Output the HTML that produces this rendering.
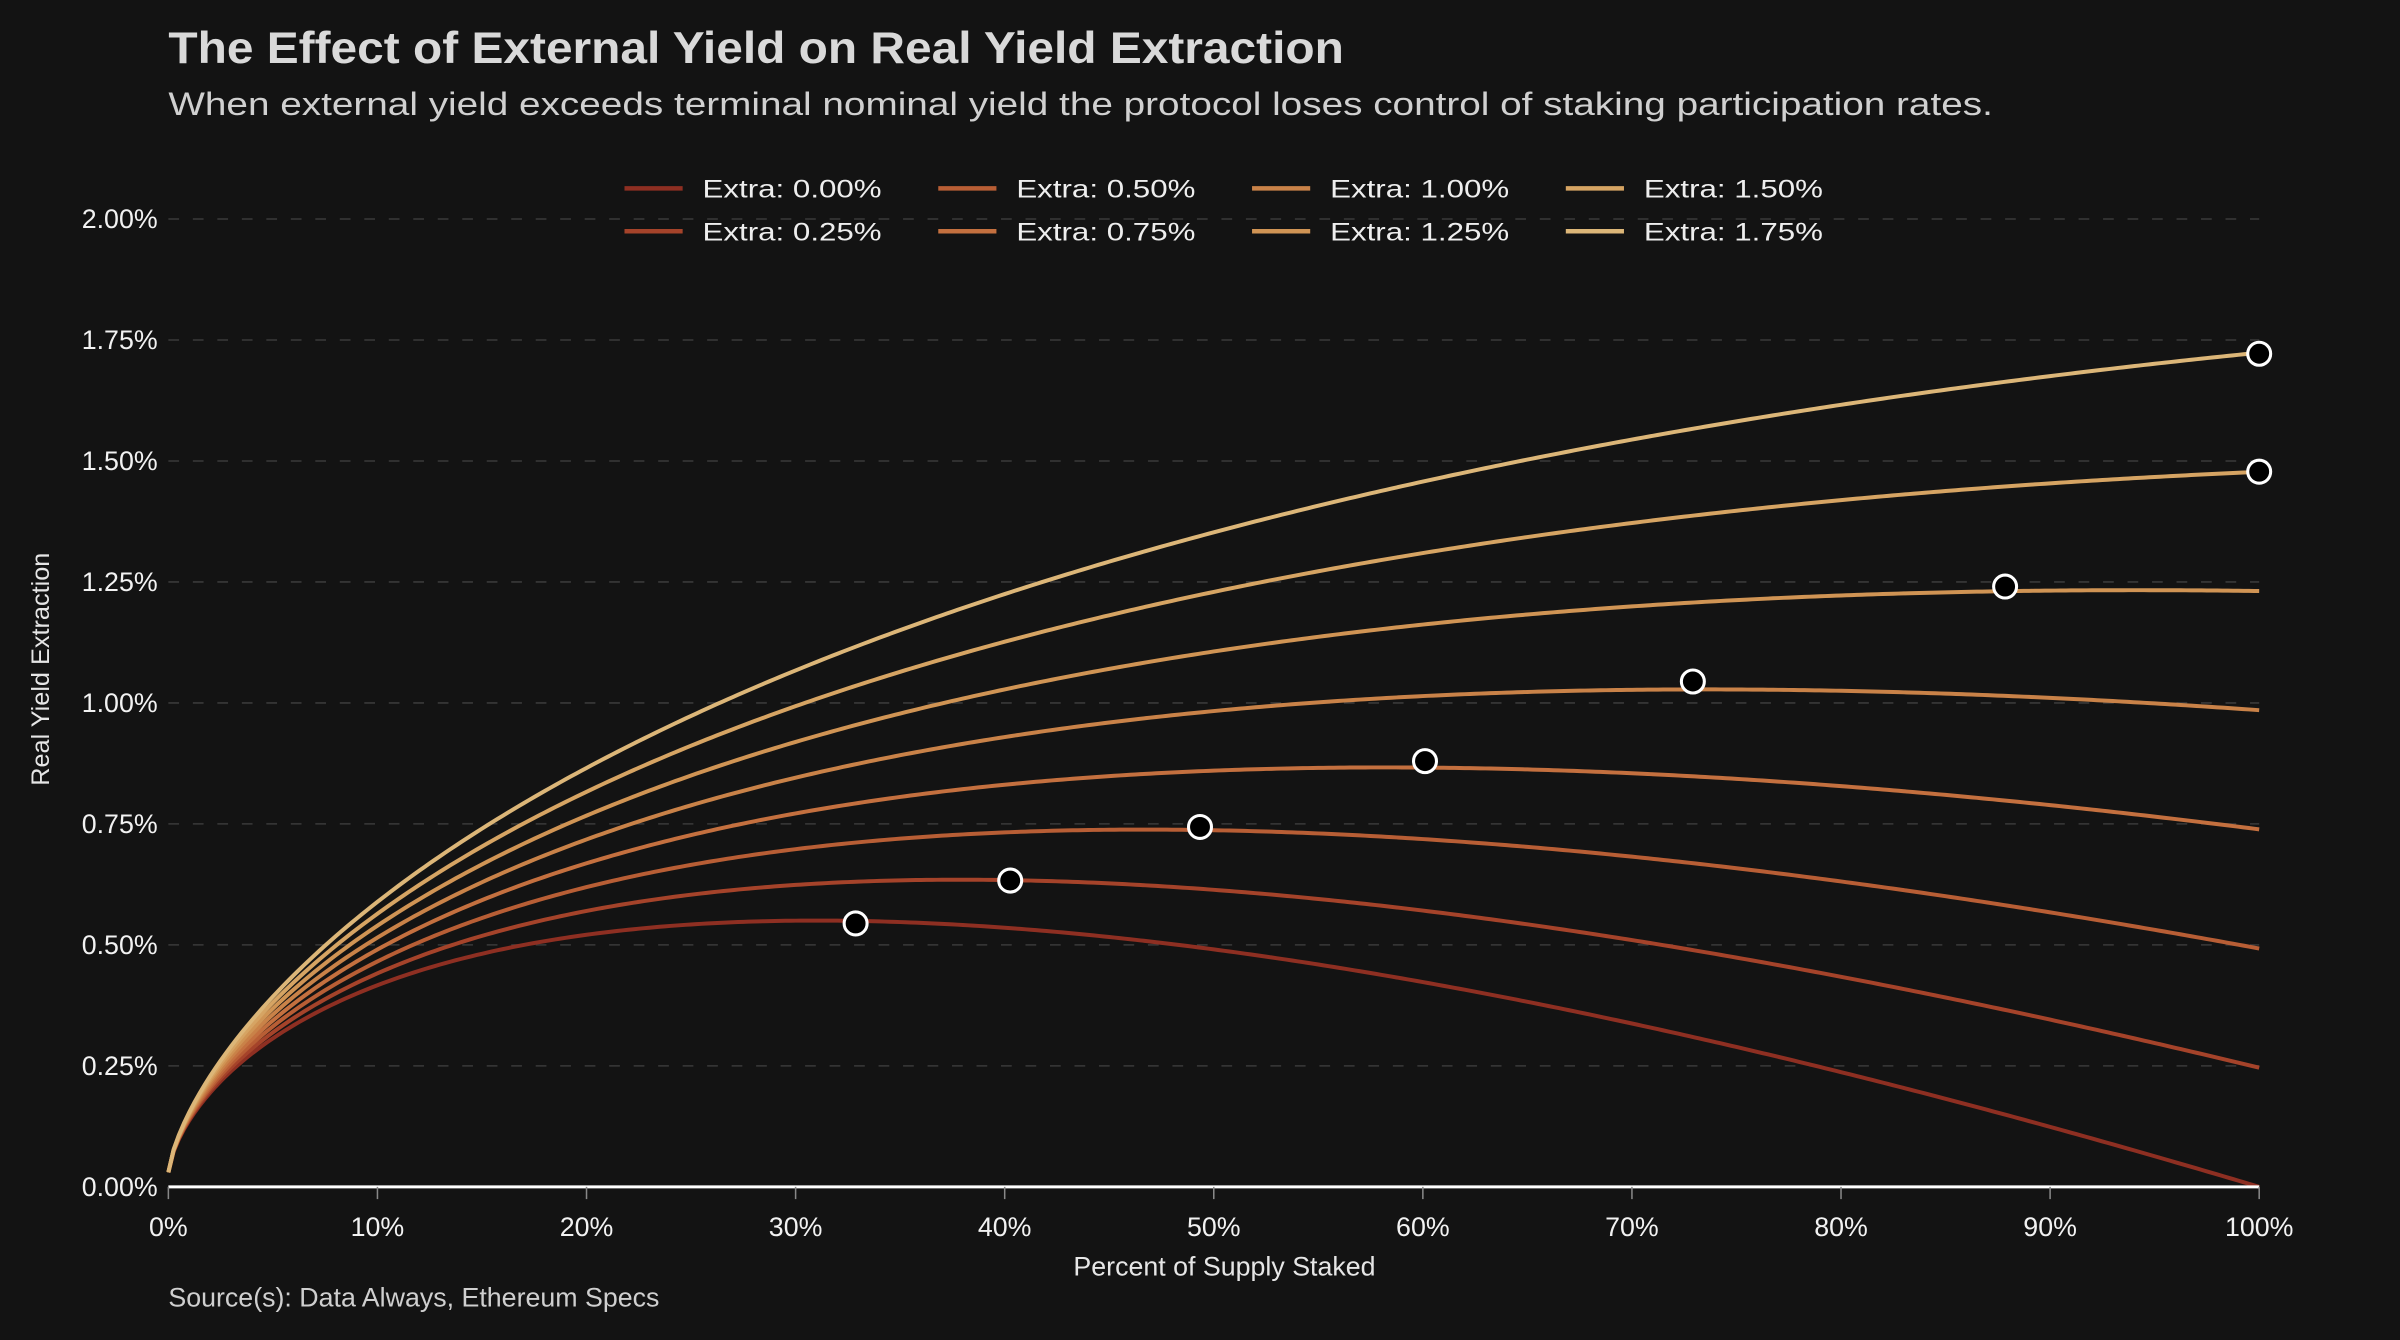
<!DOCTYPE html>
<html><head><meta charset="utf-8"><style>
html,body{margin:0;padding:0;background:#131313;}
svg{display:block}
text{font-family:"Liberation Sans",sans-serif;}
</style></head><body>
<svg id="c" width="2400" height="1340" viewBox="0 0 1568 875" preserveAspectRatio="none" xmlns="http://www.w3.org/2000/svg">
<rect width="1568" height="875" fill="#131313"/>
<text x="110" y="41" font-size="29" font-weight="bold" fill="#d9d9d9" textLength="768" lengthAdjust="spacingAndGlyphs">The Effect of External Yield on Real Yield Extraction</text>
<text x="110" y="75" font-size="21" fill="#d0d0d0" textLength="1192" lengthAdjust="spacingAndGlyphs">When external yield exceeds terminal nominal yield the protocol loses control of staking participation rates.</text>
<g id="grid"></g>
<g id="legend" font-size="16.5" fill="#eeeeee"></g>
<g id="curves"></g>
<line x1="110" y1="775" x2="1476" y2="775" stroke="#ffffff" stroke-width="2"/>
<g id="xt" font-size="17.5" fill="#f2f2f2" text-anchor="middle"></g>
<text x="800" y="833" font-size="17.5" fill="#e6e6e6" text-anchor="middle">Percent of Supply Staked</text>
<text transform="translate(32,437) rotate(-90)" font-size="16.5" fill="#e6e6e6" text-anchor="middle">Real Yield Extraction</text>
<text x="110" y="853" font-size="17.5" fill="#cfcfcf">Source(s): Data Always, Ethereum Specs</text>
<g id="marks"></g>
</svg>
<script>
var NS="http://www.w3.org/2000/svg";
function el(t,a,p,txt){var e=document.createElementNS(NS,t);for(var k in a)e.setAttribute(k,a[k]);if(txt!==undefined)e.textContent=txt;document.getElementById(p).appendChild(e);return e;}
function X(s){return 110+1366*s;}
function Y(v){return 775-v/0.25*79;}
for(var i=0;i<=8;i++){var v=i*0.25;var y=Y(v);
 if(i>0)el("line",{x1:110,x2:1476,y1:y,y2:y,stroke:"#3a3a3a","stroke-width":1,"stroke-dasharray":"7 9"},"grid");
 el("text",{x:103,y:y+6,"font-size":17.5,fill:"#f2f2f2","text-anchor":"end"},"grid",v.toFixed(2)+"%");}
for(var i=0;i<=10;i++){var x=X(i/10);
 el("line",{x1:x,x2:x,y1:775,y2:783,stroke:"#888","stroke-width":1},"xt");
 el("text",{x:x,y:807},"xt",(i*10)+"%");}
var cols=["#8e2f22","#a5432a","#b85e35","#c4703f","#c98248","#d09454","#d6a463","#dcb678"];
var A=5.14,p=0.755,k=0.985;
for(var j=0;j<8;j++){
 var e=j*0.25;
 var d="";
 for(var n=0;n<=400;n++){var s=n/400;var f=A*Math.pow(s,p)-(A-k*e)*s+0.03*(1-s);
  d+=(n?"L":"M")+X(s).toFixed(2)+" "+Y(f).toFixed(2);}
 el("path",{d:d,fill:"none",stroke:cols[j],"stroke-width":2.6},"curves");
 var col=Math.floor(j/2),row=j%2;
 var lx=408+col*205,ly=123+row*28;
 el("line",{x1:lx,x2:lx+38,y1:ly,y2:ly,stroke:cols[j],"stroke-width":3},"legend");
 el("text",{x:lx+51,y:ly+6,textLength:117,lengthAdjust:"spacingAndGlyphs"},"legend","Extra: "+e.toFixed(2)+"%");
}
var marks=[[559,603],[660,575],[784,540],[931,497],[1106,445],[1310,383],[1476,308],[1476,231]];
marks.forEach(function(m){el("circle",{cx:m[0],cy:m[1],r:7.5,fill:"#000",stroke:"#fff","stroke-width":2},"marks");});
</script>
</body></html>
